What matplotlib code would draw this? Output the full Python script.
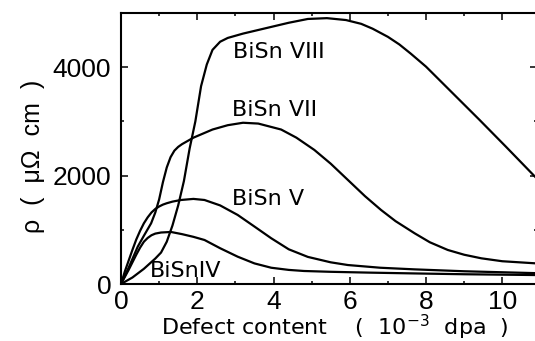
import matplotlib
matplotlib.use("Agg")
import matplotlib.pyplot as plt
from matplotlib.ticker import MultipleLocator

plt.rcParams['font.family'] = ['Liberation Sans', 'DejaVu Sans']
plt.rcParams['mathtext.fontset'] = 'custom'
plt.rcParams['mathtext.rm'] = 'DejaVu Sans'
plt.rcParams['mathtext.it'] = 'DejaVu Sans'
plt.rcParams['axes.unicode_minus'] = False

# ---- data (defect content in 1e-3 dpa, resistivity in micro-ohm cm) ----
x_viii = [0, 0.3, 0.6, 0.9, 1.05, 1.2, 1.35, 1.5, 1.65, 1.8, 1.95, 2.1, 2.25, 2.4, 2.6, 2.8,
          3.2, 3.8, 4.4, 4.9, 5.4, 5.9, 6.3, 6.6, 7.0, 7.3, 7.6, 8.0, 8.7, 9.4, 10.1, 10.9]
y_viii = [0, 120, 280, 470, 580, 780, 1080, 1450, 1900, 2500, 3000, 3650, 4050, 4320, 4470, 4540,
          4620, 4720, 4820, 4890, 4905, 4870, 4800, 4710, 4560, 4420, 4250, 4010, 3520, 3030, 2530, 1950]

x_vii = [0, 0.2, 0.44, 0.6, 0.79, 0.9, 1.0, 1.1, 1.2, 1.3, 1.4, 1.5, 1.6, 1.9, 2.4, 2.8, 3.2, 3.6,
         4.2, 4.6, 5.07, 5.5, 5.95, 6.4, 6.82, 7.2, 7.7, 8.1, 8.57, 9.0, 9.45, 10.0, 10.9]
y_vii = [0, 300, 690, 890, 1120, 1320, 1560, 1880, 2150, 2340, 2460, 2530, 2580, 2700, 2850, 2930, 2975, 2960,
         2850, 2700, 2474, 2220, 1920, 1620, 1366, 1160, 936, 770, 628, 540, 474, 420, 380]

x_v = [0, 0.1, 0.2, 0.3, 0.4, 0.5, 0.6, 0.7, 0.8, 0.9, 1.0, 1.1, 1.2, 1.35, 1.57, 1.9, 2.19, 2.6,
       3.06, 3.5, 3.94, 4.4, 4.9, 5.5, 5.95, 6.8, 7.7, 9.0, 10.9]
y_v = [0, 230, 430, 630, 820, 980, 1120, 1230, 1320, 1385, 1430, 1465, 1490, 1520, 1550, 1570, 1550, 1450,
       1274, 1060, 844, 640, 500, 400, 350, 300, 270, 235, 200]

x_iv = [0, 0.1, 0.2, 0.3, 0.4, 0.5, 0.6, 0.7, 0.8, 0.9, 1.05, 1.31, 1.6, 1.9, 2.19, 2.6, 3.06, 3.5,
        3.94, 4.4, 4.8, 5.5, 6.5, 7.7, 9.0, 10.9]
y_iv = [0, 130, 260, 400, 540, 670, 780, 850, 900, 930, 950, 960, 920, 870, 812, 660, 504, 380,
        300, 260, 240, 225, 210, 195, 180, 165]

labels = ["BiSn VIII", "BiSn VII", "BiSn V", "BiSnIV"]
label_x = [2.94, 2.91, 2.90, 0.76]
label_y = [4170, 3100, 1460, 135]

xticks = [0, 2, 4, 6, 8, 10]
yticks = [0, 2000, 4000]

fig = plt.figure(figsize=(5.35, 3.41), dpi=100)
ax = fig.add_axes([121 / 535, 1 - 284 / 341, 415.6 / 535, 271 / 341])

for xs, ys in [(x_viii, y_viii), (x_vii, y_vii), (x_v, y_v), (x_iv, y_iv)]:
    ax.plot(xs, ys, color='black', lw=1.6, solid_joinstyle='round')

for t, tx, ty in zip(labels, label_x, label_y):
    ax.text(tx, ty, t, fontsize=16, va='baseline', ha='left', family='DejaVu Sans')

ax.set_xlim(0, 10.9)
ax.set_ylim(0, 5000)
ax.set_xticks(xticks)
ax.set_xticklabels([str(v) for v in xticks])
ax.set_yticks(yticks)
ax.set_yticklabels([str(v) for v in yticks])
ax.xaxis.set_minor_locator(MultipleLocator(1))
ax.yaxis.set_minor_locator(MultipleLocator(1000))
ax.tick_params(which='both', direction='in', top=True, right=True, width=1.1, colors='black')
ax.tick_params(which='major', length=5, labelsize=19)
ax.tick_params(which='minor', length=2.5)
ax.tick_params(axis='x', which='major', pad=4)
ax.tick_params(axis='y', which='major', pad=7)
for s in ax.spines.values():
    s.set_linewidth(1.5)

ax.set_xlabel(r"Defect content    (  10$^{-3}$  dpa  )", fontsize=16, family='DejaVu Sans')
ax.xaxis.set_label_coords(0.514, -0.108)
ax.set_ylabel("ρ  (  μΩ  cm  )", fontsize=18)
ax.yaxis.set_label_coords(-0.183, 0.47)

fig.savefig("out.png", dpi=100)
